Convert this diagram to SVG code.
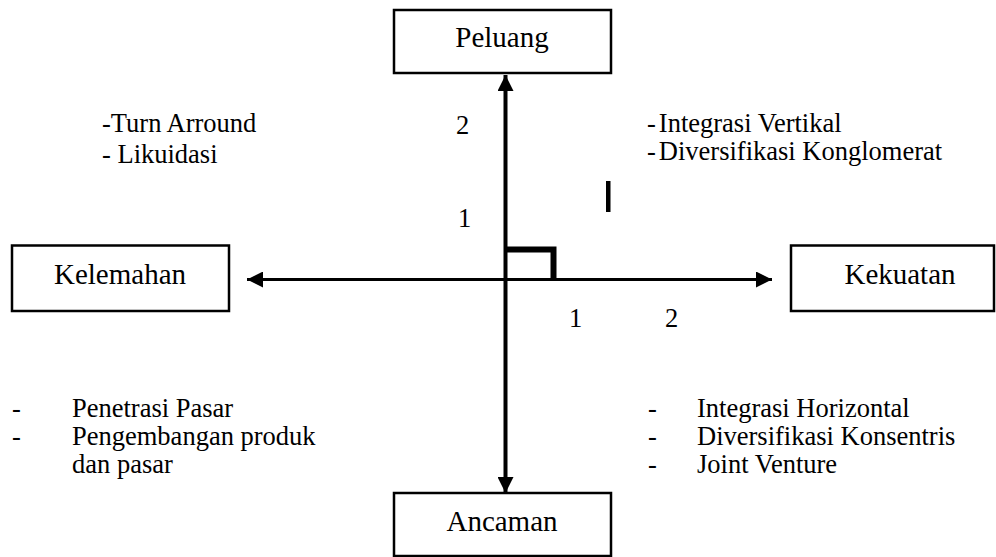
<svg xmlns="http://www.w3.org/2000/svg" width="996" height="557" viewBox="0 0 996 557" font-family="Liberation Serif, DejaVu Serif, Times New Roman, Times, serif">
  <defs>
    <style>
      .box { fill: #fff; stroke: #000; stroke-width: 2.5; }
      .lbl { font-family: 'Liberation Serif', 'DejaVu Serif', 'Times New Roman', Times, serif; font-size: 29px; fill: #000; text-anchor: middle; }
      .txt { font-family: 'Liberation Serif', 'DejaVu Serif', 'Times New Roman', Times, serif; font-size: 26.5px; fill: #000; }
      .axis { stroke: #000; fill: none; }
    </style>
    <marker id="head" viewBox="0 0 16 16" refX="16" refY="8" markerWidth="16" markerHeight="16" markerUnits="userSpaceOnUse" orient="auto">
      <path d="M0,0 L16,8 L0,16 Z" fill="#000"/>
    </marker>
  </defs>

  <rect width="996" height="557" fill="#fff"/>

  <!-- quadrant axes -->
  <g id="connectors">
    <line class="axis" x1="505.5" y1="280" x2="505.5" y2="75" stroke-width="4" marker-end="url(#head)"/>
    <line class="axis" x1="505.5" y1="280" x2="505.5" y2="493" stroke-width="4" marker-end="url(#head)"/>
    <line class="axis" x1="505" y1="279.5" x2="247" y2="279.5" stroke-width="3" marker-end="url(#head)"/>
    <line class="axis" x1="505" y1="279.5" x2="772" y2="279.5" stroke-width="3" marker-end="url(#head)"/>
    <!-- right-angle mark -->
    <path d="M506,249.5 L553.5,249.5 L553.5,279" fill="none" stroke="#000" stroke-width="6"/>
    <rect x="606" y="181" width="4.5" height="31" fill="#000"/>
  </g>

  <g id="peluang">
    <rect class="box" x="394" y="10" width="217" height="63"/>
    <text class="lbl" x="502" y="47">Peluang</text>
  </g>

  <g id="kelemahan">
    <rect class="box" x="12" y="245.5" width="217" height="65.5"/>
    <text class="lbl" x="120" y="284">Kelemahan</text>
  </g>

  <g id="kekuatan">
    <rect class="box" x="791" y="245.5" width="203" height="65.5"/>
    <text class="lbl" x="900" y="284">Kekuatan</text>
  </g>

  <g id="ancaman">
    <rect class="box" x="394" y="493" width="217" height="63"/>
    <text class="lbl" x="502" y="531">Ancaman</text>
  </g>

  <!-- scale marks -->
  <g id="scale">
    <text class="txt" x="456" y="134">2</text>
    <text class="txt" x="458" y="227">1</text>
    <text class="txt" x="569" y="327">1</text>
    <text class="txt" x="665" y="327">2</text>
  </g>

  <!-- strategy lists -->
  <g id="kuadran-kiri-atas">
    <text class="txt" x="102" y="132">-Turn Arround</text>
    <text class="txt" x="102" y="163">- Likuidasi</text>
  </g>

  <g id="kuadran-kanan-atas">
    <text class="txt" x="647" y="132">-<tspan dx="3">Integrasi Vertikal</tspan></text>
    <text class="txt" x="647" y="160">-<tspan dx="3">Diversifikasi Konglomerat</tspan></text>
  </g>

  <g id="kuadran-kiri-bawah">
    <text class="txt" x="12" y="417">-</text>
    <text class="txt" x="72" y="417">Penetrasi Pasar</text>
    <text class="txt" x="12" y="445">-</text>
    <text class="txt" x="72" y="445">Pengembangan produk</text>
    <text class="txt" x="72" y="473">dan pasar</text>
  </g>

  <g id="kuadran-kanan-bawah">
    <text class="txt" x="648" y="417">-</text>
    <text class="txt" x="697" y="417">Integrasi Horizontal</text>
    <text class="txt" x="648" y="445">-</text>
    <text class="txt" x="697" y="445">Diversifikasi Konsentris</text>
    <text class="txt" x="648" y="473">-</text>
    <text class="txt" x="697" y="473">Joint Venture</text>
  </g>
</svg>
